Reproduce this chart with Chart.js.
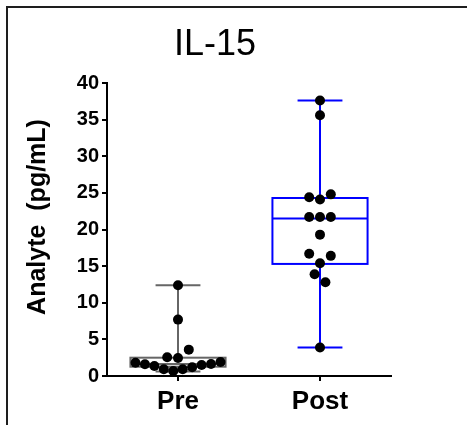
<!DOCTYPE html>
<html lang="en">
<head>
<meta charset="UTF-8">
<title>IL-15</title>
<style>
    html, body { margin: 0; padding: 0; background: #fff; }
    #wrap { position: relative; width: 467px; height: 425px; overflow: hidden; }
    /* frame of the original slide, only top and left edges are visible */
    #frame { position: absolute; left: 6px; top: 6px; width: 600px; height: 600px;
             border-top: 2px solid #1e1e1e; border-left: 2px solid #1e1e1e; }
    #chart { position: absolute; left: 0; top: 0; }
</style>
</head>
<body>
<div id="wrap">
    <div id="frame"></div>
    <canvas id="chart" width="467" height="425"></canvas>
</div>

<script src="https://cdn.jsdelivr.net/npm/chart.js"></script>
<script>
// data
const chartTitle = 'IL-15';
const yTitle = 'Analyte  (pg/mL)';
const groups = ['Pre', 'Post'];
const preValues = [0.68, 0.91, 0.91, 1.19, 1.37, 1.50, 1.60, 1.64, 1.82, 1.91, 2.45, 2.55, 3.6, 7.7, 12.4];
const postValues = [3.9, 13.9, 12.8, 15.4, 16.7, 16.4, 19.3, 21.7, 21.7, 21.7, 24.1, 24.4, 24.8, 35.6, 37.6];
const boxMin = [0.6, 3.9];
const boxQ1 = [1.27, 15.3];
const boxMedian = [1.64, 21.5];
const boxQ3 = [2.5, 24.3];
const boxMax = [12.4, 37.6];
const yTickValues = [0, 5, 10, 15, 20, 25, 30, 35, 40];

const boxColors = ['#666666', '#0000ff'];
const BOX_HALF = 0.335;   // x units
const CAP_HALF = 0.158;
const DOT_GAP = 10.8;     // px between dots in one row
const ROW_H = 12;         // px height of a row of dots
const MAX_ROW = 85;       // px, widest row

// box and whiskers, drawn under the dots
const boxPlot = {
    id: 'boxPlot',
    beforeDatasetsDraw(chart) {
        const {ctx, scales: {x, y}} = chart;
        groups.forEach((g, i) => {
            const cx = x.getPixelForValue(i + 1);
            const bl = x.getPixelForValue(i + 1 - BOX_HALF), br = x.getPixelForValue(i + 1 + BOX_HALF);
            const cl = x.getPixelForValue(i + 1 - CAP_HALF), cr = x.getPixelForValue(i + 1 + CAP_HALF);
            const yMin = y.getPixelForValue(boxMin[i]), yMax = y.getPixelForValue(boxMax[i]);
            const yQ1 = y.getPixelForValue(boxQ1[i]), yQ3 = y.getPixelForValue(boxQ3[i]);
            const yMed = y.getPixelForValue(boxMedian[i]);
            ctx.save();
            ctx.strokeStyle = boxColors[i];
            ctx.lineWidth = 2;
            ctx.beginPath();
            ctx.moveTo(cx, yMax); ctx.lineTo(cx, yQ3);
            ctx.moveTo(cx, yQ1); ctx.lineTo(cx, yMin);
            ctx.moveTo(cl, yMax); ctx.lineTo(cr, yMax);
            ctx.moveTo(cl, yMin); ctx.lineTo(cr, yMin);
            ctx.moveTo(bl, yMed); ctx.lineTo(br, yMed);
            ctx.stroke();
            ctx.strokeRect(bl, yQ3, br - bl, yQ1 - yQ3);
            ctx.restore();
        });
    }
};

// title and y axis title
const titles = {
    id: 'titles',
    afterDraw(chart) {
        const {ctx} = chart;
        ctx.save();
        ctx.fillStyle = '#000';
        ctx.textAlign = 'center';
        ctx.textBaseline = 'alphabetic';
        ctx.font = '36px Arial, "Liberation Sans", sans-serif';
        ctx.fillText(chartTitle, 215, 55);
        ctx.translate(45, 217);
        ctx.rotate(-Math.PI / 2);
        ctx.font = 'bold 25px Arial, "Liberation Sans", sans-serif';
        ctx.fillText(yTitle, 0, 0);
        ctx.restore();
    }
};

// spread dots of a group sideways, row by row like a column scatter
function swarm(values, y) {
    const order = values.map((v, i) => i).sort((a, b) => values[a] - values[b]);
    const rows = [];
    let row = null, start = 0;
    order.forEach(i => {
        const py = y.getPixelForValue(values[i]);
        if (!row || start - py >= ROW_H) { row = []; rows.push(row); start = py; }
        row.push(i);
    });
    const offs = [];
    rows.forEach(r => {
        r.sort((a, b) => a - b);
        const n = r.length;
        const gap = n > 1 ? Math.min(DOT_GAP, MAX_ROW / (n - 1)) : 0;
        r.forEach((idx, k) => {
            let slot;
            if (n % 2) slot = k === 0 ? 0 : (k % 2 ? -(k + 1) / 2 : k / 2);
            else slot = (k % 2 ? 1 : -1) * (Math.floor(k / 2) + 0.5);
            offs[idx] = slot * gap;
        });
    });
    return offs;
}

const tickFont = { family: 'Arial, "Liberation Sans", sans-serif', weight: 'bold' };
const allValues = [preValues, postValues];

const chart = new Chart(document.getElementById('chart'), {
    type: 'scatter',
    data: {
        datasets: allValues.map((vals, g) => ({
            label: groups[g],
            data: vals.map(v => ({ x: g + 1, y: v })),
            backgroundColor: '#000',
            borderWidth: 0,
            pointRadius: 5,
            pointHoverRadius: 5
        }))
    },
    options: {
        responsive: false,
        animation: false,
        layout: { padding: { left: 0, top: 83, right: 76, bottom: 0 } },
        plugins: {
            legend: { display: false },
            tooltip: { enabled: false }
        },
        scales: {
            x: {
                type: 'linear',
                min: 0.5,
                max: 2.5,
                afterBuildTicks: s => { s.ticks = groups.map((g, i) => ({ value: i + 1 })); },
                afterFit: s => { s.height = 49; },
                ticks: {
                    callback: v => groups[v - 1],
                    color: '#000',
                    font: { ...tickFont, size: 26 },
                    padding: 5,
                    maxRotation: 0
                },
                grid: { display: true, drawOnChartArea: false, tickLength: 5, color: '#000', lineWidth: 2 },
                border: { display: true, color: '#000', width: 2 }
            },
            y: {
                min: 0,
                max: 40,
                afterBuildTicks: s => { s.ticks = yTickValues.map(v => ({ value: v })); },
                afterFit: s => { s.width = 107; },
                ticks: {
                    color: '#000',
                    font: { ...tickFont, size: 20 },
                    padding: 3
                },
                grid: { display: true, drawOnChartArea: false, tickLength: 5, color: '#000', lineWidth: 2 },
                border: { display: true, color: '#000', width: 2 }
            }
        }
    },
    plugins: [boxPlot, titles]
});

// place the dots once the scales are known
const pxPerUnit = chart.scales.x.getPixelForValue(2) - chart.scales.x.getPixelForValue(1);
allValues.forEach((vals, g) => {
    const offs = swarm(vals, chart.scales.y);
    chart.data.datasets[g].data = vals.map((v, i) => ({ x: g + 1 + offs[i] / pxPerUnit, y: v }));
});
chart.update('none');
</script>
</body>
</html>
